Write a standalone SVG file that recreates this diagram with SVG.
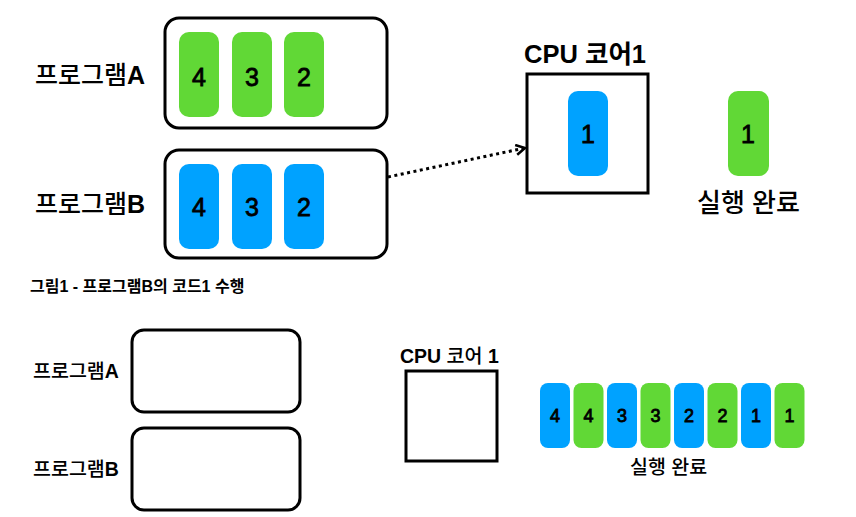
<svg xmlns="http://www.w3.org/2000/svg" width="856" height="517" viewBox="0 0 856 517">
<defs>
<style>
.t{font-family:"Liberation Sans","Noto Sans CJK KR",sans-serif;fill:#000}
.l{font-weight:700;stroke:none}
.n{font-family:"Liberation Sans",sans-serif;fill:#000;stroke:#000;stroke-width:0.8;text-anchor:middle}
.box{fill:#fff;stroke:#000;stroke-width:3}
.g{fill:#61d836}
.b{fill:#00a2ff}
</style>
<marker id="ah" viewBox="0 0 12 12" refX="10" refY="6" markerWidth="12" markerHeight="12" markerUnits="userSpaceOnUse" orient="auto">
<path d="M1,1 L10,6 L1,11" fill="none" stroke="#000" stroke-width="2.5"/>
</marker>
</defs>
<rect width="856" height="517" fill="#fff"/>

<g id="progA">
<rect class="box" x="165" y="18" width="222" height="110" rx="14"/>
<text class="t" x="35" y="84" font-size="25" font-weight="500">프로그램<tspan class="l">A</tspan></text>
<rect class="g" x="179" y="32" width="40" height="85" rx="10"/>
<rect class="g" x="232" y="32" width="40" height="85" rx="10"/>
<rect class="g" x="284" y="32" width="40" height="85" rx="10"/>
<text class="n" x="199" y="86" font-size="25">4</text>
<text class="n" x="252" y="86" font-size="25">3</text>
<text class="n" x="304" y="86" font-size="25">2</text>
</g>

<g id="progB">
<rect class="box" x="165" y="150" width="222" height="108" rx="14"/>
<text class="t" x="35" y="213" font-size="25" font-weight="500">프로그램<tspan class="l">B</tspan></text>
<rect class="b" x="179" y="164" width="40" height="85" rx="10"/>
<rect class="b" x="232" y="164" width="40" height="85" rx="10"/>
<rect class="b" x="284" y="164" width="40" height="85" rx="10"/>
<text class="n" x="199" y="216" font-size="25">4</text>
<text class="n" x="252" y="216" font-size="25">3</text>
<text class="n" x="304" y="216" font-size="25">2</text>
</g>

<g id="cpu1">
<text class="t" x="524" y="63" font-size="25.5" font-weight="700">CPU 코어1</text>
<rect class="box" x="527" y="74" width="121" height="119"/>
<rect class="b" x="568" y="91" width="40" height="85" rx="10"/>
<text class="n" x="588" y="143" font-size="25">1</text>
</g>

<g id="done1">
<rect class="g" x="728" y="91" width="41" height="85" rx="10"/>
<text class="n" x="748" y="143" font-size="25">1</text>
<text class="t" x="697" y="212" font-size="26" font-weight="500">실행 완료</text>
</g>

<g id="connectors">
<path d="M388,177 L525,148" fill="none" stroke="#000" stroke-width="3" stroke-dasharray="3,3.5" marker-end="url(#ah)"/>
</g>

<g id="caption">
<text class="t" x="30" y="292" font-size="16" font-weight="700">그림1 - 프로그램B의 코드1 수행</text>
</g>

<g id="progA2">
<rect class="box" x="132" y="330" width="168" height="82" rx="12"/>
<text class="t" x="33" y="378" font-size="19.5" font-weight="500">프로그램<tspan class="l">A</tspan></text>
</g>

<g id="progB2">
<rect class="box" x="132" y="428" width="168" height="82" rx="12"/>
<text class="t" x="33" y="476" font-size="19.5" font-weight="500">프로그램<tspan class="l">B</tspan></text>
</g>

<g id="cpu2">
<text class="t" x="400" y="363" font-size="19.5" font-weight="500"><tspan class="l">CPU</tspan> 코어 <tspan class="l">1</tspan></text>
<rect class="box" x="406" y="371" width="91" height="90"/>
</g>

<g id="done2">
<rect class="b" x="540" y="383" width="30" height="65" rx="8"/>
<rect class="g" x="573.5" y="383" width="30" height="65" rx="8"/>
<rect class="b" x="607" y="383" width="30" height="65" rx="8"/>
<rect class="g" x="640.5" y="383" width="30" height="65" rx="8"/>
<rect class="b" x="674" y="383" width="30" height="65" rx="8"/>
<rect class="g" x="707.5" y="383" width="30" height="65" rx="8"/>
<rect class="b" x="741" y="383" width="30" height="65" rx="8"/>
<rect class="g" x="774.5" y="383" width="30" height="65" rx="8"/>
<g style="stroke-width:0.5">
<text class="n" x="555" y="422" font-size="18">4</text>
<text class="n" x="588.5" y="422" font-size="18">4</text>
<text class="n" x="622" y="422" font-size="18">3</text>
<text class="n" x="655.5" y="422" font-size="18">3</text>
<text class="n" x="689" y="422" font-size="18">2</text>
<text class="n" x="722.5" y="422" font-size="18">2</text>
<text class="n" x="756" y="422" font-size="18">1</text>
<text class="n" x="789.5" y="422" font-size="18">1</text>
</g>
<text class="t" x="630" y="474" font-size="19.5" font-weight="500">실행 완료</text>
</g>
</svg>
